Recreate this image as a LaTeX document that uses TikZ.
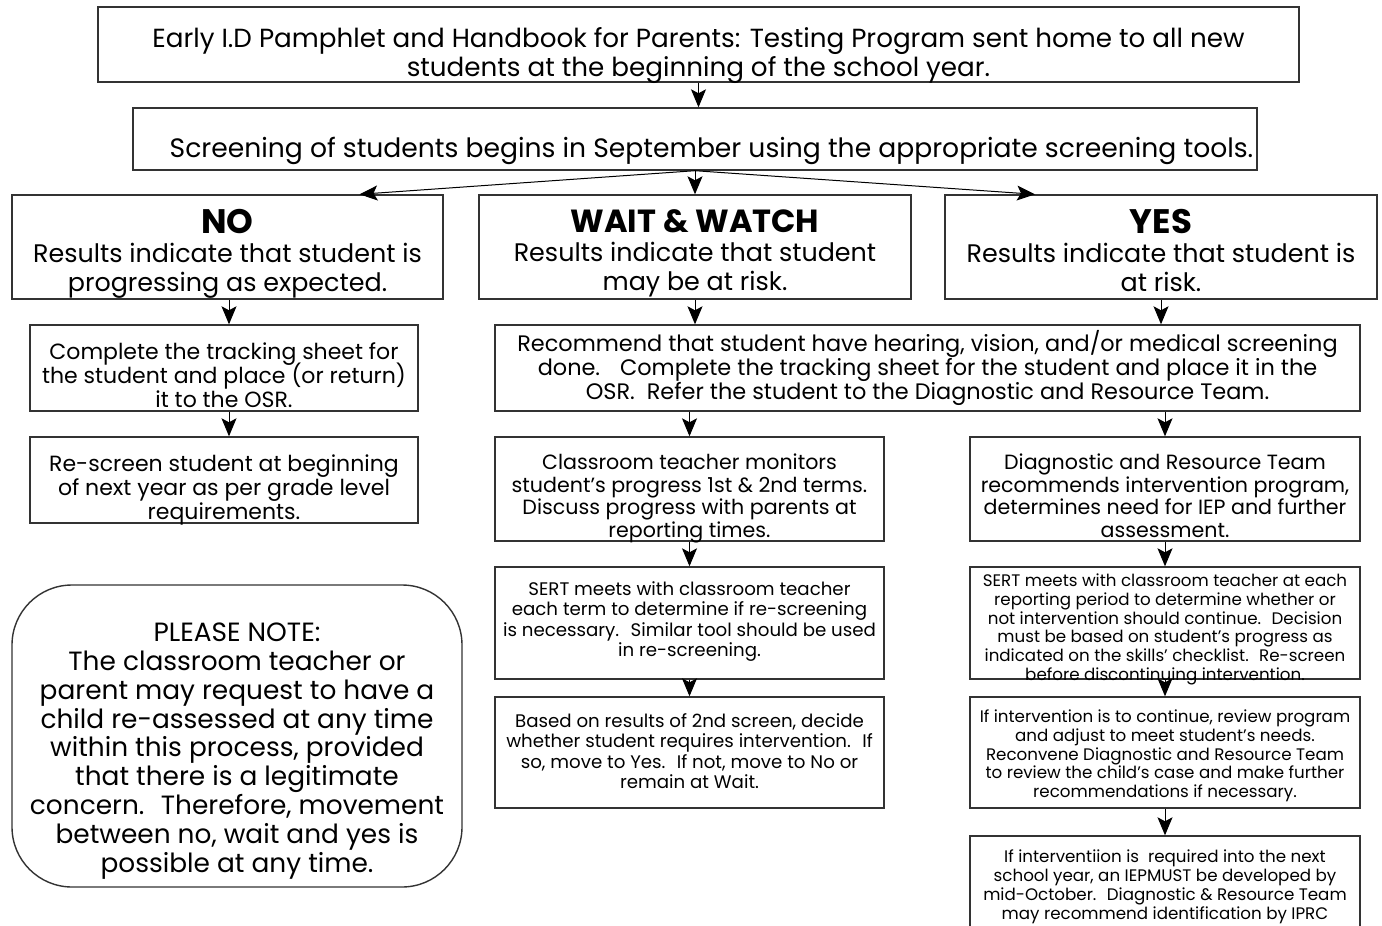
\documentclass[tikz,border=0pt]{standalone}
\usepackage{fontspec}
\setmainfont{Poppins}
\usetikzlibrary{arrows.meta}
\tikzset{
  box/.style={draw=black!80, line width=0.7pt, rectangle, inner sep=0pt, fill=white},
  txt/.style={align=center, inner sep=0pt, execute at begin node={\lineskiplimit=-20pt\strut}, execute at end node={\strut}},
  arr/.style={line width=0.5pt, -{Stealth[length=9pt,width=7.5pt,inset=2pt]}},
  fA/.style={font=\fontsize{13.1}{14.5}\selectfont},
  fA2/.style={font=\fontsize{13.3}{14.5}\selectfont},
  fH/.style={font=\fontsize{12.7}{14.5}\selectfont},
  fN/.style={font=\fontsize{13.2}{14.45}\selectfont},
  fB/.style={font=\fontsize{11}{12}\selectfont},
  fR/.style={font=\fontsize{11.2}{12}\selectfont},
  fC/.style={font=\fontsize{10.3}{11.3}\selectfont},
  fD/.style={font=\fontsize{9.1}{10.1}\selectfont},
  fE/.style={font=\fontsize{8.35}{9.45}\selectfont},
}
\begin{document}
\begin{tikzpicture}[x=0.5pt,y=-0.5pt]
\clip (0,0) rectangle (1382,926);
\fill[white] (0,0) rectangle (1382,926);
% boxes
\node[box,minimum width=600.5pt,minimum height=37.5pt] (b1) at (698.5,44.5) {};
\node[box,minimum width=562pt,minimum height=31pt] (b2) at (695,139) {};
\node[box,minimum width=215.5pt,minimum height=52pt] (no) at (227.5,247) {};
\node[box,minimum width=216pt,minimum height=52pt] (wait) at (695,247) {};
\node[box,minimum width=216pt,minimum height=52pt] (yes) at (1161,247) {};
\node[box,minimum width=194pt,minimum height=43pt] (no2) at (224,368) {};
\node[box,minimum width=194pt,minimum height=43pt] (no3) at (224,480) {};
\node[box,minimum width=432.5pt,minimum height=43pt] (rec) at (927.5,368) {};
\node[box,minimum width=194.5pt,minimum height=52pt] (w1) at (689.5,489) {};
\node[box,minimum width=195pt,minimum height=52pt] (y1) at (1165,489) {};
\node[box,minimum width=194.5pt,minimum height=56pt] (w2) at (689.5,623) {};
\node[box,minimum width=195pt,minimum height=56pt] (y2) at (1165,623) {};
\node[box,minimum width=194.5pt,minimum height=55.5pt] (w3) at (689.5,752.5) {};
\node[box,minimum width=195pt,minimum height=55.5pt] (y3) at (1165,752.5) {};
\node[box,minimum width=195pt,minimum height=51pt] (y4) at (1165,887) {};
\node[box,rounded corners=30pt,minimum width=225pt,minimum height=151pt] (note) at (237,736) {};
% texts
\node[txt,fA] (b1t) at (698.5,56.5)
 {Early I.D Pamphlet and Handbook for Parents: Testing Program sent home to all new\\students at the beginning of the school year.};
\node[txt,fA2] (b2t) at (711.5,152)
 {Screening of students begins in September using the appropriate screening tools.};
\node[txt,fH] (not) at (227.5,254.5)
 {{\fontsize{17}{18}\selectfont\bfseries NO}\\Results indicate that student is\\progressing as expected.};
\node[txt,fH] (waitt) at (695,254.5)
 {{\fontsize{16}{18}\selectfont\bfseries WAIT \& WATCH}\\Results indicate that student\\may be at risk.};
\node[txt,fH] (yest) at (1161,254.5)
 {{\fontsize{17}{18}\selectfont\bfseries YES}\\Results indicate that student is\\at risk.};
\node[txt,fB] (no2t) at (224,379)
 {Complete the tracking sheet for\\the student and place (or return)\\it to the OSR.};
\node[txt,fB] (no3t) at (224,491)
 {Re-screen student at beginning\\of next year as per grade level\\requirements.};
\node[txt,fR] (rect) at (927.5,369)
 {Recommend that student have hearing, vision, and/or medical screening\\done.~~ Complete the tracking sheet for the student and place it in the\\OSR.~ Refer the student to the Diagnostic and Resource Team.};
\node[txt,fC] (w1t) at (689.5,499)
 {Classroom teacher monitors\\student’s progress 1st \& 2nd terms.\\Discuss progress with parents at\\reporting times.};
\node[txt,fC] (y1t) at (1165,499)
 {Diagnostic and Resource Team\\recommends intervention program,\\determines need for IEP and further\\assessment.};
\node[txt,fD] (w2t) at (689.5,622)
 {SERT meets with classroom teacher\\each term to determine if re-screening\\is necessary.~ Similar tool should be used\\in re-screening.};
\node[txt,fE] (y2t) at (1165,630)
 {SERT meets with classroom teacher at each\\reporting period to determine whether or\\not intervention should continue.~ Decision\\must be based on student’s progress as\\indicated on the skills’ checklist.~ Re-screen\\before discontinuing intervention.};
\node[txt,fD] (w3t) at (689.5,754)
 {Based on results of 2nd screen, decide\\whether student requires intervention.~ If\\so, move to Yes.~ If not, move to No or\\remain at Wait.};
\node[txt,fE] (y3t) at (1165,756.5)
 {If intervention is to continue, review program\\and adjust to meet student’s needs.\\Reconvene Diagnostic and Resource Team\\to review the child’s case and make further\\recommendations if necessary.};
\node[txt,fE] (y4t) at (1165,887.5)
 {If interventiion is~ required into the next\\school year, an IEPMUST be developed by\\mid-October.~ Diagnostic \& Resource Team\\may recommend identification by IPRC};
\node[txt,fN] (notet) at (237,752)
 {PLEASE NOTE:\\The classroom teacher or\\parent may request to have a\\child re-assessed at any time\\within this process, provided\\that there is a legitimate\\concern.~ Therefore, movement\\between no, wait and yes is\\possible at any time.};
% connectors
\draw[arr] (b1.south) -- (b1.south |- b2.north);
\draw[arr] (b2.south) -- ([xshift=66pt]no.north);
\draw[arr] (b2.south) -- (b2.south |- wait.north);
\draw[arr] (b2.south) -- ([xshift=-63pt]yes.north);
\draw[arr] ([xshift=0.75pt]no.south) -- ([xshift=0.75pt]no.south |- no2.north);
\draw[arr] ([xshift=2.5pt]no2.south) -- ([xshift=2.5pt]no3.north);
\draw[arr] (wait.south) -- (wait.south |- rec.north);
\draw[arr] (yes.south) -- (yes.south |- rec.north);
\draw[arr] (w1.north |- rec.south) -- (w1.north);
\draw[arr] (y1.north |- rec.south) -- (y1.north);
\draw[arr] (w1.south) -- (w2.north);
\draw[arr] (y1.south) -- (y2.north);
\draw[arr] (w2.south) -- (w3.north);
\draw[arr] (y2.south) -- (y3.north);
\draw[arr] (y3.south) -- (y4.north);
\end{tikzpicture}
\end{document}
